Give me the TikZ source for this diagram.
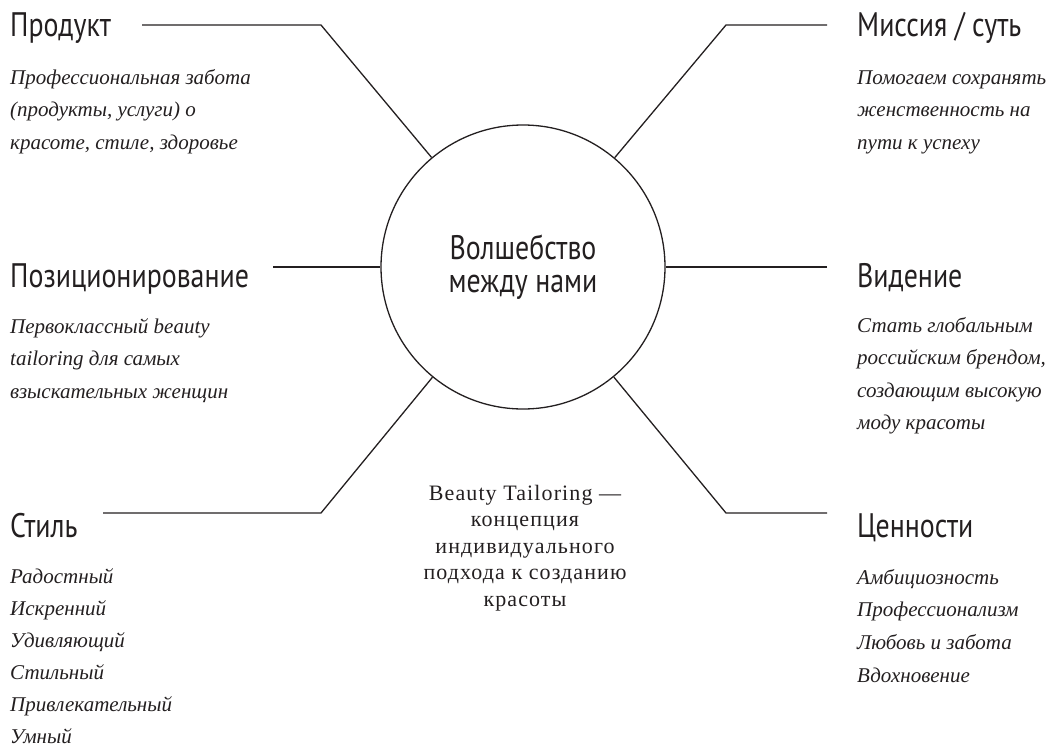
\documentclass[tikz,border=0pt]{standalone}
\usepackage{fontspec}
\setmainfont{Liberation Serif}
\newfontfamily\headfont[FakeStretch=0.82]{PT Sans}
\newfontfamily\notefont[LetterSpace=5]{Liberation Serif}
\definecolor{ink}{HTML}{231F20}

\tikzset{
  title/.style={anchor=base west, inner sep=0pt, text=ink,
    font=\headfont\fontsize{34}{40}\selectfont},
  body/.style={anchor=base west, inner sep=0pt, text=ink,
    font=\itshape\fontsize{21}{33}\selectfont},
  note/.style={anchor=base, inner sep=0pt, text=ink,
    font=\notefont\fontsize{22}{27}\selectfont},
  spoke/.style={draw=ink, line width=1.3pt},
}

\begin{document}
\begin{tikzpicture}[x=1pt,y=-1pt]
      \useasboundingbox (0,0) rectangle (1050,747);

      %центр
      \node[circle, draw=ink, line width=1.3pt, minimum size=284pt, inner sep=0pt,
        align=center, text=ink, font=\headfont\fontsize{34}{33}\selectfont]
        (core) at (523,267) {Волшебство\\между нами};

      %заголовки
      \node[title] (prod) at (10,36) {Продукт};
      \node[title] (pos)  at (10,287) {Позиционирование};
      \node[title] (stil) at (10,537) {Стиль};
      \node[title] (miss) at (857,36) {Миссия / суть};
      \node[title] (vid)  at (857,287) {Видение};
      \node[title] (cen)  at (857,537) {Ценности};

      %линии
      \coordinate (prod-e) at (142,25);  \coordinate (prod-k) at (321,25);
      \coordinate (miss-e) at (827,25);  \coordinate (miss-k) at (726,25);
      \coordinate (stil-e) at (103,513); \coordinate (stil-k) at (321,513);
      \coordinate (cen-e)  at (827,513); \coordinate (cen-k)  at (726,513);
      \coordinate (pos-e)  at (273,267);
      \coordinate (vid-e)  at (827,267);

      \draw[spoke] (prod-e) -- (prod-k) -- (core);
      \draw[spoke] (miss-e) -- (miss-k) -- (core);
      \draw[spoke] (stil-e) -- (stil-k) -- (core);
      \draw[spoke] (cen-e) -- (cen-k) -- (core);
      \draw[spoke] (pos-e) -- (core.west);
      \draw[spoke] (vid-e) -- (core.east);

      %тексты
      \foreach \t [count=\i] in {Профессиональная забота, {(продукты, услуги) о}, {красоте, стиле, здоровье}}
      	\node[body] (prod-t\i) at (10,{84+32.7*(\i-1)}) {\t};

      \foreach \t [count=\i] in {Первоклассный beauty, tailoring для самых, взыскательных женщин}
      	\node[body] (pos-t\i) at (10,{333+32.7*(\i-1)}) {\t};

      \foreach \t [count=\i] in {Радостный, Искренний, Удивляющий, Стильный, Привлекательный, Умный}
      	\node[body] (stil-t\i) at (10,{583+32*(\i-1)}) {\t};

      \foreach \t [count=\i] in {Помогаем сохранять, женственность на, пути к успеху}
      	\node[body] (miss-t\i) at (857,{84+32.7*(\i-1)}) {\t};

      \foreach \t [count=\i] in {Стать глобальным, {российским брендом,}, создающим высокую, моду красоты}
      	\node[body] (vid-t\i) at (857,{332+32.5*(\i-1)}) {\t};

      \foreach \t [count=\i] in {Амбициозность, Профессионализм, Любовь и забота, Вдохновение}
      	\node[body] (cen-t\i) at (857,{584+32.7*(\i-1)}) {\t};

      \foreach \t [count=\i] in {Beauty Tailoring —, концепция, индивидуального, подхода к созданию, красоты}
      	\node[note] (note\i) at (525,{500+26.5*(\i-1)}) {\t};

\end{tikzpicture}
\end{document}
